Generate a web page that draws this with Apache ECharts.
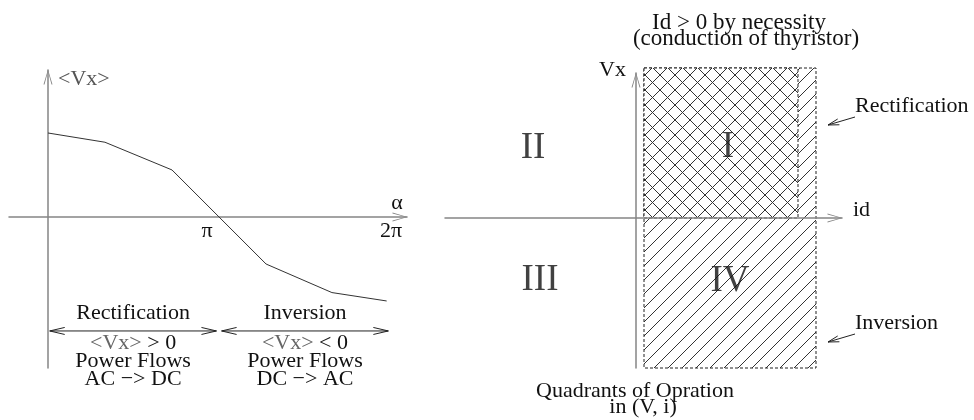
<!DOCTYPE html>
<html>
<head>
<meta charset="utf-8">
<title>Thyristor converter: average voltage and quadrants</title>
<script src="https://cdn.jsdelivr.net/npm/echarts@6/dist/echarts.min.js"></script>
<style>
  html, body { margin: 0; padding: 0; background: #fff; }
  #chart { width: 974px; height: 420px; }
</style>
</head>
<body>
<div id="chart"></div>
<script>
// left panel: <Vx> against firing angle alpha (alpha in units of pi)
const ALPHA = [0, 0.333, 0.725, 1.275, 1.66, 1.98];
const VX_AVG = [1.0, 0.89, 0.56, -0.56, -0.9, -1.0];
const ALPHA_TICKS = [1, 2];
const ALPHA_TICK_LABELS = ['π', '2π'];

// operating modes along alpha
const MODE_NAMES = ['Rectification', 'Inversion'];
const MODE_FROM = [0.01, 1.015];
const MODE_TO = [0.985, 1.99];
const MODE_NOTES = [
  ['{g|<Vx>} > 0', 'Power Flows', 'AC −> DC'],
  ['{g|<Vx>} < 0', 'Power Flows', 'DC −> AC']
];

// right panel: quadrants in (id, Vx)
const QUADRANTS = ['I', 'II', 'III', 'IV'];
const QUADRANT_ID = [0.92, -1.03, -0.96, 0.94];
const QUADRANT_VX = [0.71, 0.70, -0.62, -0.63];

// allowed operating regions (id range, Vx range)
const REGION_NAMES = ['id > 0', 'rectification'];
const REGION_ID = [[0.08, 1.80], [0.08, 1.62]];
const REGION_VX = [[-1.5, 1.5], [0, 1.5]];

// side notes pointing into the region
const NOTE_NAMES = ['Rectification', 'Inversion'];
const NOTE_ID = [1.92, 1.92];
const NOTE_VX = [0.93, -1.24];

const SERIF = '"Liberation Serif", "DejaVu Serif", serif';
const AXIS_COLOR = '#858585';
const INK = '#111';
const ARROW = 'path://M4.5,0L9,15L8,15L4.5,2L1,15L0,15Z';

function hatch(size, cross) {
  const c = document.createElement('canvas');
  c.width = c.height = size;
  const g = c.getContext('2d');
  g.fillStyle = '#fff';
  g.fillRect(0, 0, size, size);
  g.strokeStyle = '#333';
  g.lineWidth = 1;
  g.beginPath();
  g.moveTo(-1, size + 1);
  g.lineTo(size + 1, -1);
  if (cross) {
    g.moveTo(-1, -1);
    g.lineTo(size + 1, size + 1);
  }
  g.stroke();
  return { image: c, repeat: 'repeat' };
}
const PATTERNS = [hatch(14, false), hatch(15, true)];

function axisLine() {
  return {
    show: true,
    onZero: true,
    symbol: ['none', ARROW],
    symbolSize: [9, 15],
    symbolOffset: [0, -7],
    lineStyle: { color: AXIS_COLOR, width: 1.5 }
  };
}

const bare = {
  axisTick: { show: false },
  axisLabel: { show: false },
  splitLine: { show: false },
  nameMoveOverlap: false
};

const chart = echarts.init(document.getElementById('chart'), null, { renderer: 'canvas' });

const option = {
  animation: false,
  backgroundColor: '#fff',
  grid: [
    { left: 9, right: 567, top: 70, bottom: 52, outerBoundsMode: 'none' },
    { left: 445, right: 132, top: 73, bottom: 52, outerBoundsMode: 'none' }
  ],
  xAxis: [
    Object.assign({
      type: 'value', gridIndex: 0, min: -0.228, max: 2.099,
      axisLine: axisLine(),
      name: 'α', nameLocation: 'end', nameGap: -10,
      nameTextStyle: { fontFamily: SERIF, fontSize: 22, color: INK, align: 'center', verticalAlign: 'bottom', padding: [0, 0, 3, 0] }
    }, bare),
    Object.assign({
      type: 'value', gridIndex: 1, min: -1.91, max: 2.06,
      axisLine: axisLine()
    }, bare)
  ],
  yAxis: [
    Object.assign({
      type: 'value', gridIndex: 0, min: -1.798, max: 1.75,
      axisLine: axisLine(),
      name: '<Vx>', nameLocation: 'end', nameGap: -9,
      nameTextStyle: { fontFamily: SERIF, fontSize: 22, color: '#555', align: 'left', verticalAlign: 'middle', padding: [0, 0, 0, 10] }
    }, bare),
    Object.assign({
      type: 'value', gridIndex: 1, min: -1.5, max: 1.45,
      axisLine: axisLine(),
      name: 'Vx', nameLocation: 'end', nameGap: 3,
      nameTextStyle: { fontFamily: SERIF, fontSize: 22, color: INK, align: 'right', verticalAlign: 'middle', padding: [0, 10, 0, 0] }
    }, bare)
  ],
  series: [
    {
      type: 'line',
      xAxisIndex: 0, yAxisIndex: 0,
      data: ALPHA.map((a, i) => [a, VX_AVG[i]]),
      symbol: 'none',
      lineStyle: { color: '#333', width: 1 },
      z: 3
    },
    {
      type: 'custom',
      xAxisIndex: 1, yAxisIndex: 1,
      clip: false,
      data: REGION_NAMES.map((n, i) => [REGION_ID[i][0], REGION_ID[i][1], REGION_VX[i][0], REGION_VX[i][1]]),
      encode: { x: [0, 1], y: [2, 3] },
      renderItem: (params, api) => {
        const a = api.coord([api.value(0), api.value(3)]);
        const b = api.coord([api.value(1), api.value(2)]);
        return {
          type: 'rect',
          shape: { x: a[0], y: a[1], width: b[0] - a[0], height: b[1] - a[1] },
          style: {
            fill: PATTERNS[params.dataIndex],
            stroke: '#222',
            lineWidth: 1,
            lineDash: [3, 2]
          }
        };
      },
      z: -1
    },
    {
      type: 'scatter',
      xAxisIndex: 1, yAxisIndex: 1,
      data: QUADRANTS.map((q, i) => ({ name: q, value: [QUADRANT_ID[i], QUADRANT_VX[i]] })),
      symbolSize: 1,
      itemStyle: { color: 'rgba(0,0,0,0)' },
      label: {
        show: true, position: 'inside', formatter: '{b}',
        fontFamily: SERIF, fontSize: 37, color: INK
      },
      z: 5
    }
  ]
};

chart.setOption(option);

// annotations placed from data coordinates
const MODE_LEVEL = -1.357;
const TICK_NUDGE = [-12, 1];
const graphics = [];
const txt = (x, y, text, extra) => ({
  type: 'text', x, y, silent: true, z: 10,
  style: Object.assign({ text, fontFamily: SERIF, fontSize: 22, fill: INK, align: 'center', verticalAlign: 'middle' }, extra || {})
});
const seg = (pts) => ({
  type: 'polyline', silent: true, z: 10,
  shape: { points: pts },
  style: { stroke: '#222', lineWidth: 1, fill: null }
});
function head(tip, from, len, spread) {
  const dx = tip[0] - from[0], dy = tip[1] - from[1];
  const d = Math.hypot(dx, dy);
  const ux = dx / d, uy = dy / d;
  return seg([
    [tip[0] - ux * len - uy * spread, tip[1] - uy * len + ux * spread],
    tip,
    [tip[0] - ux * len + uy * spread, tip[1] - uy * len - ux * spread]
  ]);
}

// alpha tick labels under the axis line
ALPHA_TICKS.forEach((t, i) => {
  const p = chart.convertToPixel({ gridIndex: 0 }, [t, 0]);
  graphics.push(txt(p[0] + TICK_NUDGE[i], p[1] + 14, ALPHA_TICK_LABELS[i]));
});

MODE_NAMES.forEach((name, i) => {
  const a = chart.convertToPixel({ gridIndex: 0 }, [MODE_FROM[i], MODE_LEVEL]);
  const b = chart.convertToPixel({ gridIndex: 0 }, [MODE_TO[i], MODE_LEVEL]);
  const cx = (a[0] + b[0]) / 2;
  graphics.push(seg([a, b]));
  graphics.push(head(a, b, 15, 3.5));
  graphics.push(head(b, a, 15, 3.5));
  graphics.push(txt(cx, a[1] - 18, name));
  graphics.push(txt(cx, a[1] + 3, MODE_NOTES[i].join('\n'), {
    verticalAlign: 'top', lineHeight: 18,
    rich: { g: { fontFamily: SERIF, fontSize: 22, fill: '#666', lineHeight: 18 } }
  }));
});

NOTE_NAMES.forEach((name, i) => {
  const tip = chart.convertToPixel({ gridIndex: 1 }, [NOTE_ID[i], NOTE_VX[i]]);
  const tail = [tip[0] + 27, tip[1] - 8];
  graphics.push(seg([tail, tip]));
  graphics.push(head(tip, tail, 11, 3));
  graphics.push(txt(tail[0], tail[1] - 11, name, { align: 'left' }));
});

// current axis name beside its arrow
const idEnd = chart.convertToPixel({ gridIndex: 1 }, [2.06, 0]);
graphics.push(txt(idEnd[0] + 11, idEnd[1] - 8, 'id', { align: 'left' }));

// titles of the quadrant panel
const rMid = chart.convertToPixel({ gridIndex: 1 }, [(REGION_ID[0][0] + REGION_ID[0][1]) / 2, 0]);
graphics.push(txt(rMid[0] + 9, 23, 'Id > 0 by necessity', { fontSize: 23 }));
graphics.push(txt(rMid[0] + 16, 39, '(conduction of thyristor)', { fontSize: 23 }));
const origin = chart.convertToPixel({ gridIndex: 1 }, [0, 0]);
graphics.push(txt(origin[0] - 1, 391, 'Quadrants of Opration'));
graphics.push(txt(origin[0] + 7, 407, 'in (V, i)'));

chart.setOption({ graphic: graphics });
</script>
</body>
</html>
